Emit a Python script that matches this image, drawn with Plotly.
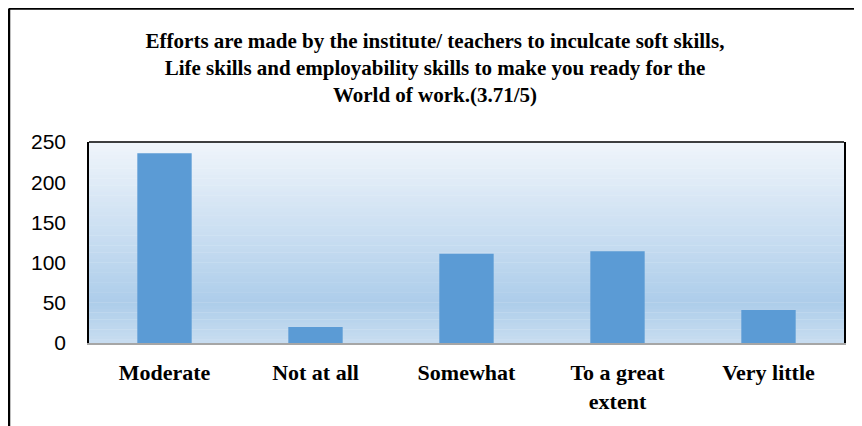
import plotly.graph_objects as go

# Survey responses
categories = ['Moderate', 'Not at all', 'Somewhat', 'To a great<br>extent', 'Very little']
counts = [236, 20, 111, 114, 41]
y_ticks = [0, 50, 100, 150, 200, 250]

title_text = ('Efforts are made by the institute/ teachers to inculcate soft skills,<br>'
              'Life skills and employability skills to make you ready for the<br>'
              'World of work.(3.71/5)')

W, H = 854, 418  # page adds an 8px body margin
L, R, T, B = 81, 18, 134, 83
pw, ph = W - L - R, H - T - B


def mix(c1, c2, t):
    a = [int(c1[i:i + 2], 16) for i in (1, 3, 5)]
    b = [int(c2[i:i + 2], 16) for i in (1, 3, 5)]
    return '#' + ''.join(f'{round(x + (y - x) * t):02x}' for x, y in zip(a, b))


# gradient plot background built from thin bands (top -> bottom)
stops = [(0.0, '#F0F5FB'), (0.8, '#ADCDEA'), (1.0, '#C8DDF0')]
shapes = []
n = 60
for i in range(n):
    t = (i + 0.5) / n
    for (p0, c0), (p1, c1) in zip(stops, stops[1:]):
        if p0 <= t <= p1:
            col = mix(c0, c1, (t - p0) / (p1 - p0))
            break
    shapes.append(dict(type='rect', xref='paper', yref='paper',
                       x0=0, x1=1, y0=1 - (i + 1) / n, y1=1 - i / n + 0.002,
                       fillcolor=col, line_width=0, layer='below'))

# top border of plot area
shapes.append(dict(type='line', xref='paper', yref='paper', x0=0, x1=1, y0=1, y1=1,
                   line=dict(color='black', width=1.5)))
# outer frame (top and left edges of the figure)
fx = (1 - L) / pw
fy = 1 + (T - 0.5) / ph
shapes.append(dict(type='line', xref='paper', yref='paper', x0=fx, x1=(W - L) / pw, y0=fy, y1=fy,
                   line=dict(color='black', width=2.5)))
shapes.append(dict(type='line', xref='paper', yref='paper', x0=fx, x1=fx, y0=-B / ph, y1=fy,
                   line=dict(color='black', width=2.5)))

fig = go.Figure(go.Bar(x=categories, y=counts, marker_color='#5B9BD5', marker_line_width=0))

fig.update_layout(
    width=W, height=H,
    margin=dict(l=L, r=R, t=T, b=B),
    paper_bgcolor='white',
    plot_bgcolor='rgba(0,0,0,0)',
    bargap=0.64,
    showlegend=False,
    shapes=shapes,
    title=dict(text=title_text, x=0.5, xanchor='center', y=0.905, yanchor='middle',
               font=dict(family='Liberation Serif', size=21, color='black', weight='bold')),
)
fig.update_xaxes(showgrid=False, showline=True, linecolor='#A6A6A6', linewidth=2,
                 ticks='outside', ticklen=0, ticklabelstandoff=9,
                 tickfont=dict(family='Liberation Serif', size=22, color='black', weight='bold'))
fig.update_yaxes(range=[0, 250], tickvals=y_ticks, showgrid=False, zeroline=False,
                 showline=True, linecolor='black', linewidth=1.5, mirror=True,
                 ticks='outside', ticklen=0, ticklabelstandoff=17,
                 tickfont=dict(family='Liberation Sans', size=21, color='black'))

fig.write_html('out.html')
